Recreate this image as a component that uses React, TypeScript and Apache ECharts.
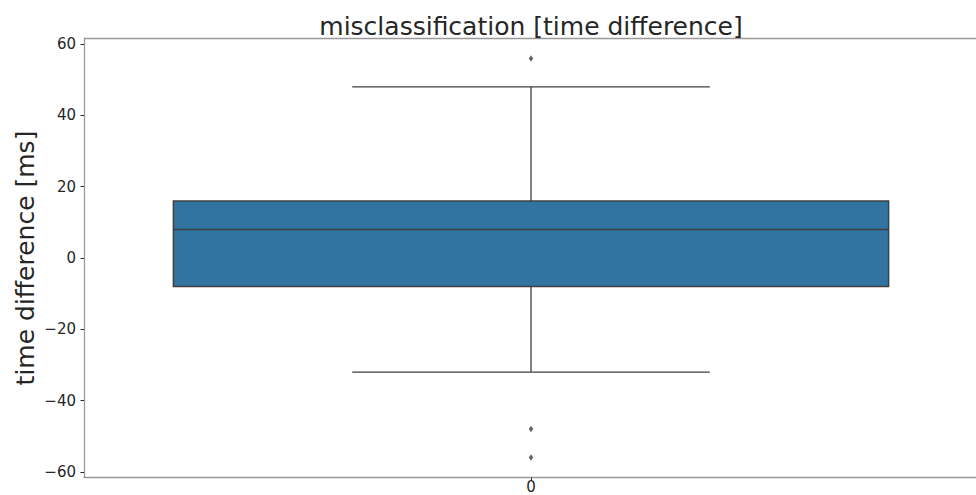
import React, { useEffect, useRef } from "react";
import * as echarts from "echarts";

const categories = ["0"];
// [whiskerLow, Q1, median, Q3, whiskerHigh]
const boxStats = [[-32, -8, 8, 16, 48]];
const outliers = [[0, 56], [0, -48], [0, -56]];
const yTicks = [-60, -40, -20, 0, 20, 40, 60];
const yMin = -61.6;
const yMax = 61.6;

const TEXT = "#262626";
const EDGE = "#3f3f3f";
const FILL = "#3274a1";
const SPINE = "#999999";

export default function App() {
  const ref = useRef<HTMLDivElement>(null);
  useEffect(() => {
    if (!ref.current) return;
    const chart = echarts.init(ref.current, undefined, { renderer: "svg" });
    const font = "DejaVu Sans";
    chart.setOption({
      animation: false,
      backgroundColor: "#ffffff",
      grid: {
        left: 84,
        right: -2,
        top: 38.5,
        bottom: 17.5,
        containLabel: false,
        outerBoundsMode: "none",
      },
      xAxis: {
        type: "category",
        data: categories,
        boundaryGap: true,
        axisLine: { show: true, onZero: false, lineStyle: { color: SPINE, width: 1.3 } },
        axisTick: { show: true, alignWithLabel: true, length: 3.5, lineStyle: { color: TEXT } },
        axisLabel: { margin: 2.5, fontFamily: font, fontSize: 15, lineHeight: 14, color: TEXT },
        splitLine: { show: false },
      },
      yAxis: {
        type: "value",
        min: yMin,
        max: yMax,
        name: "time difference [ms]",
        nameLocation: "middle",
        nameGap: 46,
        nameMoveOverlap: false,
        nameTextStyle: { fontFamily: font, fontSize: 25, color: TEXT },
        axisLine: { show: true, lineStyle: { color: SPINE, width: 1.3 } },
        axisTick: { show: true, length: 3.5, customValues: yTicks, lineStyle: { color: TEXT } },
        axisLabel: {
          margin: 8,
          fontFamily: font,
          fontSize: 15,
          color: TEXT,
          customValues: yTicks,
          formatter: (v: number) => String(Math.round(v)).replace("-", "\u2212"),
        },
        splitLine: { show: false },
      },
      graphic: [
        {
          type: "line",
          shape: { x1: 84, y1: 38.5, x2: 976, y2: 38.5 },
          style: { stroke: SPINE, lineWidth: 1.3 },
          z: 10,
        },
        {
          type: "text",
          x: 531,
          y: 26,
          style: {
            text: "misclassification [time difference]",
            fontFamily: font,
            fontSize: 25,
            fill: TEXT,
            textAlign: "center",
            textVerticalAlign: "middle",
          },
          z: 10,
        },
      ],
      series: [
        {
          type: "custom",
          data: boxStats.map((s, i) => [i, ...s]),
          encode: { x: 0, y: [1, 2, 3, 4, 5] },
          renderItem: (params: any, api: any) => {
            const idx = api.value(0);
            const band = api.size([1, 0])[0];
            const boxW = band * 0.8;
            const capW = boxW * 0.5;
            const cx = api.coord([idx, 0])[0];
            const y = (k: number) => api.coord([idx, api.value(k)])[1];
            const wl = y(1), q1 = y(2), med = y(3), q3 = y(4), wh = y(5);
            const ls = { stroke: EDGE, lineWidth: 1.3 };
            return {
              type: "group",
              children: [
                { type: "line", shape: { x1: cx, y1: q1, x2: cx, y2: wl }, style: ls },
                { type: "line", shape: { x1: cx, y1: q3, x2: cx, y2: wh }, style: ls },
                { type: "line", shape: { x1: cx - capW / 2, y1: wl, x2: cx + capW / 2, y2: wl }, style: ls },
                { type: "line", shape: { x1: cx - capW / 2, y1: wh, x2: cx + capW / 2, y2: wh }, style: ls },
                {
                  type: "rect",
                  shape: { x: cx - boxW / 2, y: q3, width: boxW, height: q1 - q3 },
                  style: { fill: FILL, stroke: EDGE, lineWidth: 1.5 },
                },
                { type: "line", shape: { x1: cx - boxW / 2, y1: med, x2: cx + boxW / 2, y2: med }, style: { stroke: EDGE, lineWidth: 1.5 } },
              ],
            };
          },
          z: 2,
        },
        {
          type: "scatter",
          data: outliers,
          symbol: "diamond",
          symbolSize: [4.5, 6.5],
          itemStyle: { color: EDGE },
          z: 3,
        },
      ],
    });
    return () => chart.dispose();
  }, []);
  return (
    <div
      ref={ref}
      style={{ position: "fixed", left: 0, top: 0, width: 976, height: 495, background: "#fff" }}
    />
  );
}
